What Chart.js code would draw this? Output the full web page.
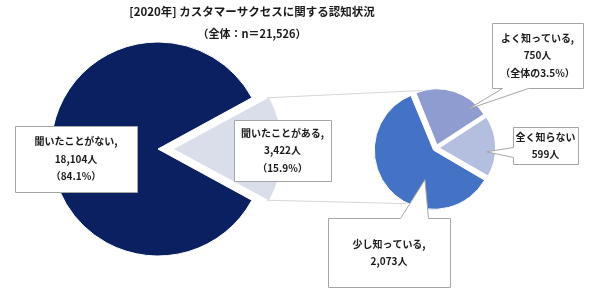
<!DOCTYPE html>
<html lang="ja">
<head>
<meta charset="utf-8">
<script src="https://cdn.jsdelivr.net/npm/chart.js@4.4.1/dist/chart.umd.min.js"></script>
<style>
  html, body { margin: 0; padding: 0; background: #fff; }
  #wrap { position: relative; width: 600px; height: 290px; overflow: hidden; }
  #wrap canvas { position: absolute; left: 0; top: 0; }
</style>
</head>
<body>
<div id="wrap">
  <canvas id="big" width="600" height="290"></canvas>
  <canvas id="small" width="600" height="290"></canvas>
</div>
<script>
// Datos
const titulo = '[2020年] カスタマーサクセスに関する認知状況';
const bigLabels = ['聞いたことがない', '聞いたことがある'];
const bigValues = [18104, 3422];
const bigColors = ['#0b2060', '#dadeeb'];
const smallLabels = ['よく知っている', '全く知らない', '少し知っている'];
const smallValues = [750, 599, 2073];
const smallColors = ['#8e9ccf', '#b4bfe0', '#4472c4'];

const total = bigValues.reduce((a, b) => a + b, 0);
const fmt = n => n.toLocaleString('en-US');
const pct = n => (n / total * 100).toFixed(1) + '%';

// el segmento "聞いたことがある" queda centrado a la derecha
const idxDetalle = 1;
const antes = bigValues.slice(0, idxDetalle).reduce((a, b) => a + b, 0);
const bigRotation = 90 - 360 * (antes + bigValues[idxDetalle] / 2) / total;

const FONT = '"Noto Sans CJK JP", "Noto Sans", sans-serif';
const TXT = '#1a1a1a';

let bigChart = null;

// punto dentro de un sector (mismo desplazamiento que aplica Chart.js al dibujar)
function puntoEn(arc, frac, rf) {
    const mid = (arc.startAngle + arc.endAngle) / 2;
    const off = (arc.options.offset || 0) / 4;
    const ang = arc.startAngle + frac * (arc.endAngle - arc.startAngle);
    return {
        x: arc.x + Math.cos(mid) * off + Math.cos(ang) * arc.outerRadius * rf,
        y: arc.y + Math.sin(mid) * off + Math.sin(ang) * arc.outerRadius * rf
    };
}

function caja(ctx, b, tip) {
    const x = Math.round(b.x) + 0.5, y = Math.round(b.y) + 0.5;
    const r = x + b.w, btm = y + b.h;
    ctx.beginPath();
    ctx.moveTo(x, y);
    if (tip && b.lado === 'top') { ctx.lineTo(x + b.a, y); ctx.lineTo(tip.x, tip.y); ctx.lineTo(x + b.b, y); }
    ctx.lineTo(r, y);
    ctx.lineTo(r, btm);
    if (tip && b.lado === 'bottom') { ctx.lineTo(x + b.b, btm); ctx.lineTo(tip.x, tip.y); ctx.lineTo(x + b.a, btm); }
    ctx.lineTo(x, btm);
    if (tip && b.lado === 'left') { ctx.lineTo(x, y + b.b); ctx.lineTo(tip.x, tip.y); ctx.lineTo(x, y + b.a); }
    ctx.closePath();
    ctx.fillStyle = '#fff';
    ctx.fill();
    ctx.strokeStyle = '#a6a6a6';
    ctx.lineWidth = 1;
    ctx.stroke();

    ctx.fillStyle = TXT;
    ctx.font = 'bold 10px ' + FONT;
    ctx.textAlign = 'center';
    ctx.textBaseline = 'middle';
    const lh = 17.5;
    const cy = b.y + b.h / 2 - (b.lines.length - 1) * lh / 2;
    b.lines.forEach((t, i) => ctx.fillText(t, b.x + b.w / 2, cy + i * lh));
}

const anotaciones = {
    id: 'anotaciones',
    beforeDatasetsDraw(chart) {
        if (!bigChart) return;
        const ctx = chart.ctx;
        const luz = bigChart.getDatasetMeta(0).data[idxDetalle];
        const c = chart.getDatasetMeta(0).data[0];
        const p1 = puntoEn(luz, 0, 1), p2 = puntoEn(luz, 1, 1);
        const R = c.outerRadius;
        const q1 = { x: c.x + Math.cos(-103 * Math.PI / 180) * (R + 3), y: c.y + Math.sin(-103 * Math.PI / 180) * (R + 3) };
        const q2 = { x: c.x + Math.cos(118 * Math.PI / 180) * (R + 7), y: c.y + Math.sin(118 * Math.PI / 180) * (R + 7) };
        ctx.save();
        ctx.strokeStyle = '#d6d6d6';
        ctx.lineWidth = 1;
        ctx.beginPath();
        ctx.moveTo(p1.x, p1.y); ctx.lineTo(q1.x, q1.y);
        ctx.moveTo(p2.x, p2.y); ctx.lineTo(q2.x, q2.y);
        ctx.stroke();
        ctx.restore();
    },
    afterDraw(chart) {
        const ctx = chart.ctx;
        ctx.save();
        // titulo
        ctx.fillStyle = TXT;
        ctx.textAlign = 'center';
        ctx.textBaseline = 'middle';
        ctx.font = 'bold 11.5px ' + FONT;
        ctx.fillText(titulo, 252, 12);
        ctx.font = 'bold 11px ' + FONT;
        ctx.fillText('（全体：n＝' + fmt(total) + '）', 252, 34);

        const sm = chart.getDatasetMeta(0).data;
        const cajas = [
            { lines: [bigLabels[0] + ',', fmt(bigValues[0]) + '人', '（' + pct(bigValues[0]) + '）'], x: 15, y: 126, w: 122, h: 66 },
            { lines: [bigLabels[1] + ',', fmt(bigValues[1]) + '人', '（' + pct(bigValues[1]) + '）'], x: 234, y: 120, w: 97, h: 61 },
            { lines: [smallLabels[0] + ',', fmt(smallValues[0]) + '人', '（全体の' + pct(smallValues[0]) + '）'], x: 492, y: 23, w: 91, h: 65,
              lado: 'bottom', a: 10, b: 36, tip: puntoEn(sm[0], 0.8, 0.85) },
            { lines: [smallLabels[1], fmt(smallValues[1]) + '人'], x: 513, y: 127, w: 65, h: 37,
              lado: 'left', a: 20, b: 30, tip: puntoEn(sm[1], 0.6, 0.85) },
            { lines: [smallLabels[2] + ',', fmt(smallValues[2]) + '人'], x: 328, y: 218, w: 122, h: 69,
              lado: 'top', a: 72, b: 100, tip: puntoEn(sm[2], 0.35, 0.55) }
        ];
        cajas.forEach(b => caja(ctx, b, b.tip));
        ctx.restore();
    }
};

bigChart = new Chart(document.getElementById('big'), {
    type: 'pie',
    data: {
        labels: bigLabels,
        datasets: [{
            data: bigValues,
            backgroundColor: bigColors,
            borderColor: '#fff',
            borderWidth: 1,
            offset: [0, 60],
            clip: false
        }]
    },
    options: {
        responsive: false,
        animation: false,
        events: [],
        rotation: bigRotation,
        radius: 107,
        layout: { padding: { left: 0, right: 284, top: 8, bottom: 0 } },
        plugins: { legend: { display: false }, tooltip: { enabled: false } }
    }
});

new Chart(document.getElementById('small'), {
    type: 'pie',
    data: {
        labels: smallLabels,
        datasets: [{
            data: smallValues,
            backgroundColor: smallColors,
            borderColor: '#fff',
            borderWidth: 1,
            offset: 13,
            clip: false
        }]
    },
    options: {
        responsive: false,
        animation: false,
        events: [],
        rotation: -22,
        radius: 56,
        layout: { padding: { left: 336, right: 64, top: 48, bottom: 42 } },
        plugins: { legend: { display: false }, tooltip: { enabled: false } }
    },
    plugins: [anotaciones]
});
</script>
</body>
</html>
